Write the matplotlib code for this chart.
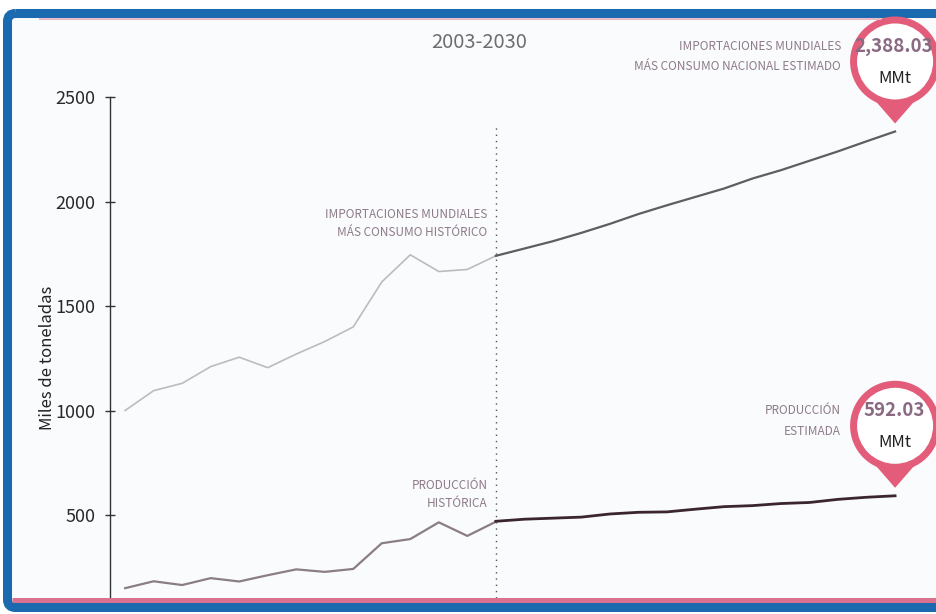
import matplotlib
matplotlib.use("Agg")
import matplotlib.pyplot as plt
from matplotlib.patches import Circle, Polygon, FancyBboxPatch

# data (miles de toneladas)
years_hist = list(range(2003, 2017))
years_proj = list(range(2016, 2031))
imp_hist = [1000, 1095, 1130, 1210, 1255, 1205, 1270, 1330, 1400, 1615, 1745, 1665, 1675, 1740]
imp_proj = [1740, 1775, 1810, 1850, 1893, 1940, 1982, 2022, 2062, 2110, 2150, 2195, 2240, 2288, 2335]
prod_hist = [150, 183, 165, 198, 182, 212, 240, 228, 242, 365, 385, 465, 400, 468]
prod_proj = [470, 480, 485, 490, 505, 513, 515, 528, 540, 545, 555, 560, 575, 585, 592]
split_year = 2016
yticks = [500, 1000, 1500, 2000, 2500]

# narrow humanist latin (Source Sans glyphs) to get close to the condensed original
plt.rcParams["font.family"] = ["Noto Sans CJK JP", "DejaVu Sans"]

W, H = 937, 614
fig = plt.figure(figsize=(W / 100, H / 100), dpi=100)
fig.patch.set_facecolor("white")

# background panel
bg = fig.add_axes([0, 0, 1, 1], zorder=-1)
bg.set_xlim(0, W)
bg.set_ylim(H, 0)
bg.axis("off")
bg.add_patch(FancyBboxPatch((8, 14), 960, 594, boxstyle="round,pad=0,rounding_size=8",
                            fc="#fafbfd", ec="none"))

# main chart
ax = fig.add_axes([110 / W, 1 - 598 / H, 827 / W, (598 - 97) / H])
ax.patch.set_alpha(0)
ax.set_xlim(2002.47, 2031.47)
ax.set_ylim(103, 2500)

ax.plot(years_hist, imp_hist, color="#bcbcbc", lw=1.2, solid_joinstyle="round")
ax.plot(years_proj, imp_proj, color="#5e5e5e", lw=1.6)
ax.plot(years_hist, prod_hist, color="#8a7d86", lw=1.6, solid_joinstyle="round")
ax.plot(years_proj, prod_proj, color="#3a2530", lw=2.0)
ax.axvline(split_year, ymin=0, ymax=(2370 - 103) / (2500 - 103),
           color="#555555", lw=1.0, ls=(0, (1, 3.5)))

for s in ["top", "right", "bottom"]:
    ax.spines[s].set_visible(False)
ax.spines["left"].set_color("#333333")
ax.spines["left"].set_linewidth(1.0)
ax.set_xticks([])
ax.set_yticks(yticks)
ax.set_yticklabels([str(v) for v in yticks])
ax.tick_params(axis="y", direction="inout", length=7, width=1, color="#333333",
               labelsize=13, labelcolor="#2a2a2a", pad=7)
ax.set_ylabel("Miles de toneladas", fontsize=12, color="#222222")
ax.yaxis.set_label_coords(-54 / 827, 0.48)

lab = dict(fontsize=8.5, color="#8e7b89", ha="right", linespacing=1.5)
ax.text(2015.7, 1895, "IMPORTACIONES MUNDIALES\nMÁS CONSUMO HISTÓRICO", va="center", **lab)
ax.text(2015.7, 598, "PRODUCCIÓN\nHISTÓRICA", va="center", **lab)

# overlay in image pixels (y down) for frame and callouts
ov = fig.add_axes([0, 0, 1, 1], zorder=5)
ov.set_xlim(0, W)
ov.set_ylim(H, 0)
ov.axis("off")
ov.patch.set_alpha(0)

ov.plot([12, W], [599.5, 599.5], color="#d9718f", lw=3.6, solid_capstyle="butt")
ov.plot([40, 880], [19, 19], color="#eab9c9", lw=1.5)
ov.add_patch(FancyBboxPatch((7.5, 13.5), 960, 594, boxstyle="round,pad=0,rounding_size=8",
                            fill=False, ec="#1b69ae", lw=6.5))

ov.text(479, 42, "2003-2030", fontsize=14.5, color="#6e6e6e", ha="center", va="center")


def to_px(x, y):
    dx, dy = ax.transData.transform((x, y))
    return dx, H - dy


def callout(x, y, value, label):
    tx, ty = to_px(x, y)
    ty -= 8
    cx, cy, r = tx, ty - 62, 45
    ring = "#e35d7a"
    ov.add_patch(Polygon([(cx - r * 0.72, cy + r * 0.55), (cx + r * 0.72, cy + r * 0.55), (tx, ty)],
                         closed=True, fc=ring, ec="none"))
    ov.add_patch(Circle((cx, cy), r, fc=ring, ec="none"))
    ov.add_patch(Circle((cx, cy), r - 7, fc="white", ec="none"))
    ov.text(cx - 1, cy - 15, value, fontsize=13.5, color="#8a6a82", ha="center", va="center",
            fontweight="bold")
    ov.text(cx, cy + 17, "MMt", fontsize=12, color="#222222", ha="center", va="center")
    ov.text(cx - r - 9, cy - 5, label, fontsize=8.5, color="#8e7b89", ha="right",
            va="center", linespacing=1.75)


callout(years_proj[-1], imp_proj[-1], "2,388.03",
        "IMPORTACIONES MUNDIALES\nMÁS CONSUMO NACIONAL ESTIMADO")
callout(years_proj[-1], prod_proj[-1], "592.03", "PRODUCCIÓN\nESTIMADA")

fig.savefig("out.png", dpi=100)
